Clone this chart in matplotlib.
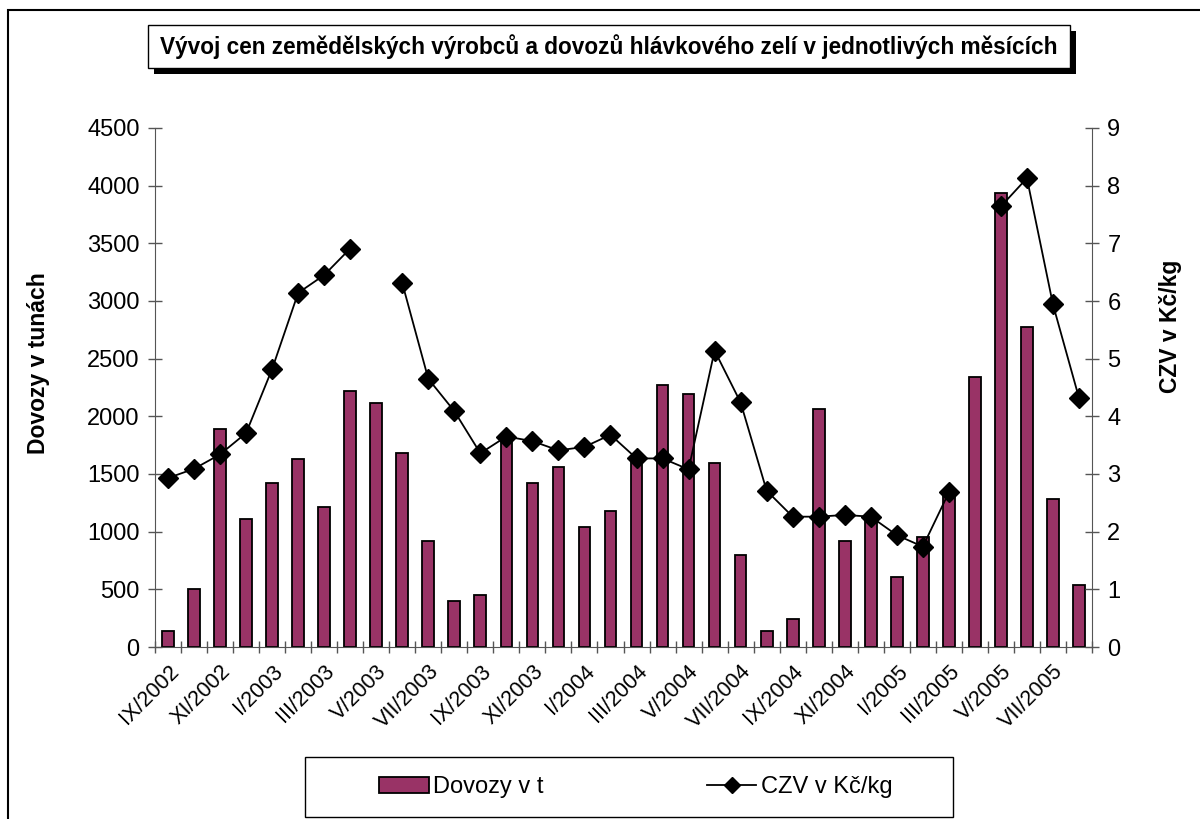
from matplotlib import pyplot as plt
from matplotlib.patches import Rectangle, Patch
from matplotlib.lines import Line2D
import numpy as np

plt.rcParams['font.family'] = ['Liberation Sans', 'DejaVu Sans']

# mesice IX/2002 .. VIII/2005
months = [
    "IX/2002", "X/2002", "XI/2002", "XII/2002",
    "I/2003", "II/2003", "III/2003", "IV/2003", "V/2003", "VI/2003",
    "VII/2003", "VIII/2003", "IX/2003", "X/2003", "XI/2003", "XII/2003",
    "I/2004", "II/2004", "III/2004", "IV/2004", "V/2004", "VI/2004",
    "VII/2004", "VIII/2004", "IX/2004", "X/2004", "XI/2004", "XII/2004",
    "I/2005", "II/2005", "III/2005", "IV/2005", "V/2005", "VI/2005",
    "VII/2005", "VIII/2005",
]

# dovozy v tunach
dovozy = [
    139, 504, 1893, 1113, 1423, 1633, 1215, 2221, 2115, 1679,
    919, 396, 448, 1819, 1423, 1562, 1042, 1178, 1640, 2273,
    2190, 1596, 798, 139, 244, 2065, 919, 1123, 606, 952,
    1340, 2344, 3937, 2777, 1284, 541,
]

# CZV v Kc/kg (nan = chybi udaj)
czv = [
    2.93, 3.09, 3.34, 3.71, 4.82, 6.14, 6.45, 6.91, np.nan, 6.31,
    4.65, 4.09, 3.36, 3.65, 3.57, 3.41, 3.47, 3.68, 3.27, 3.27,
    3.08, 5.14, 4.24, 2.71, 2.26, 2.26, 2.29, 2.26, 1.94, 1.74,
    2.68, np.nan, 7.64, 8.13, 5.94, 4.32,
]

BAR_COLOR = "#993366"
W, H = 1200, 819

fig = plt.figure(figsize=(12, 8.19), dpi=100)

# vnejsi ramecek grafu (pravy a dolni okraj jsou mimo obrazek)
fig.patches.append(Rectangle((8 / W, -0.05), 1.1, 1 - 10 / H + 0.05,
                             transform=fig.transFigure, fill=False,
                             edgecolor="black", linewidth=1.5))

ax = fig.add_axes([155 / W, 1 - 647 / H, (1092 - 155) / W, (647 - 128) / H])
ax2 = ax.twinx()

x = np.arange(len(months))
ax.bar(x, dovozy, width=0.45, color=BAR_COLOR, edgecolor="black", linewidth=1.3, zorder=2)
ax2.plot(x, czv, color="black", linewidth=1.3, marker="D", markersize=10, zorder=3)

ax.set_xlim(-0.5, len(months) - 0.5)
ax.set_ylim(0, 4500)
ax.set_yticks(np.arange(0, 4501, 500))
ax2.set_ylim(0, 9)
ax2.set_yticks(np.arange(0, 10, 1))

for a in (ax, ax2):
    a.spines["top"].set_visible(False)
    a.set_facecolor("none")
ax.spines["right"].set_visible(False)
ax2.spines["left"].set_visible(False)
ax2.spines["bottom"].set_visible(False)
for s in ("left", "bottom"):
    ax.spines[s].set_color("#555555")
ax2.spines["right"].set_color("#555555")

ax.tick_params(axis="y", direction="inout", length=10, width=1, color="#555555",
               labelsize=17, pad=6)
ax2.tick_params(axis="y", direction="inout", length=10, width=1, color="#555555",
                labelsize=17, pad=6)

# popisky kazdy druhy mesic, carky na hranicich kategorii
ax.set_xticks(x[::2])
ax.set_xticklabels(months[::2], rotation=45, ha="right", rotation_mode="anchor",
                   fontsize=15.5)
ax.set_xticks(np.arange(-0.5, len(months), 1), minor=True)
ax.tick_params(axis="x", which="major", length=0, pad=10)
ax.tick_params(axis="x", which="minor", direction="inout", length=9, width=1,
               color="#555555")

ax.set_ylabel("Dovozy v tunách", fontsize=16.5, fontweight="bold")
ax.yaxis.set_label_coords(-0.112, 0.547)
ax2.set_ylabel("CZV v Kč/kg", fontsize=16.5, fontweight="bold")
ax2.yaxis.set_label_coords(1.072, 0.617)

# nadpis v ramecku se stinem
tl, tr, tt, tb = 148, 1070, 25, 68
sh = 6
fig.patches.append(Rectangle(((tl + sh) / W, 1 - (tb + sh) / H), (tr - tl) / W, (tb - tt) / H,
                             transform=fig.transFigure, facecolor="black", edgecolor="none"))
fig.patches.append(Rectangle((tl / W, 1 - tb / H), (tr - tl) / W, (tb - tt) / H,
                             transform=fig.transFigure, facecolor="white",
                             edgecolor="black", linewidth=1))
fig.text((tl + tr) / 2 / W, 1 - (tt + tb) / 2 / H,
         "Vývoj cen zemědělských výrobců a dovozů hlávkového zelí v jednotlivých měsících",
         ha="center", va="center", fontsize=16.3, fontweight="bold")

# legenda - ramecek zvlast
fig.patches.append(Rectangle((305 / W, 1 - 817 / H), (953 - 305) / W, 60 / H,
                             transform=fig.transFigure, facecolor="white",
                             edgecolor="black", linewidth=1))
handles = [
    Patch(facecolor=BAR_COLOR, edgecolor="black", linewidth=1.3),
    Line2D([], [], color="black", linewidth=1.3, marker="D", markersize=8),
]
leg = fig.legend(handles, ["Dovozy v t", "CZV v Kč/kg"], ncol=2,
                 loc="center", bbox_to_anchor=(636 / W, 1 - 787 / H),
                 fontsize=17, frameon=False, handlelength=2.1, handleheight=0.65,
                 handletextpad=0.2, columnspacing=6.9, borderaxespad=0, borderpad=0)

fig.savefig("out.png", dpi=100)
